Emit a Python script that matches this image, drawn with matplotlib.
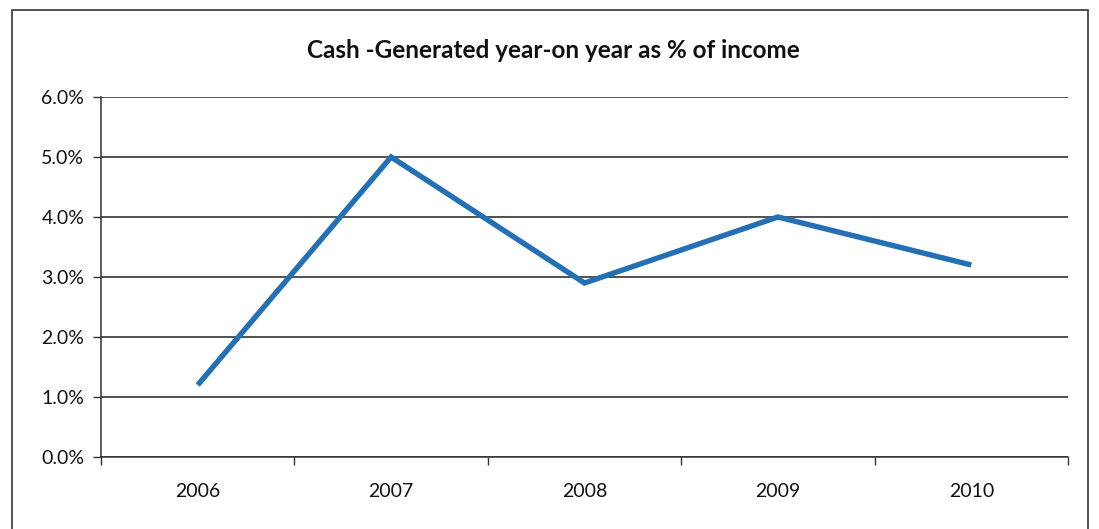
import matplotlib
matplotlib.use("Agg")
import matplotlib.pyplot as plt
from matplotlib.ticker import PercentFormatter, FixedLocator
from matplotlib.patches import Rectangle

years = ["2006", "2007", "2008", "2009", "2010"]
cash_pct = [1.2, 5.0, 2.9, 4.0, 3.2]
y_ticks = [0, 1, 2, 3, 4, 5, 6]
title = "Cash -Generated year-on year as % of income"

plt.rcParams["font.family"] = ["Lato", "DejaVu Sans"]

fig = plt.figure(figsize=(10.99, 5.29), dpi=100)
fig.patch.set_facecolor("white")

# outer chart frame
fig.patches.append(Rectangle((12 / 1099, -0.01), (1088 - 12) / 1099, (529 - 10) / 529 + 0.01,
                             transform=fig.transFigure, fill=False,
                             edgecolor="#333333", linewidth=1.2))

ax = fig.add_axes([101 / 1099, 1 - 457 / 529, (1068 - 101) / 1099, (457 - 97) / 529])
x = list(range(len(years)))
ax.plot(x, cash_pct, color="#2470b5", linewidth=3.9, solid_joinstyle="miter",
        solid_capstyle="butt", zorder=3)

ax.set_xlim(-0.5, len(years) - 0.5)
ax.set_ylim(0, 6)
ax.yaxis.set_major_locator(FixedLocator(y_ticks))
ax.yaxis.set_major_formatter(PercentFormatter(decimals=1))
ax.grid(axis="y", color="#222222", linewidth=1.1)
ax.set_axisbelow(True)

ax.xaxis.set_major_locator(FixedLocator([i - 0.5 for i in range(len(years) + 1)]))
ax.xaxis.set_major_formatter(plt.NullFormatter())
ax.xaxis.set_minor_locator(FixedLocator(x))
ax.set_xticklabels(years, minor=True)
ax.tick_params(axis="x", which="major", length=6, width=1, color="#333333", direction="out")
ax.tick_params(axis="x", which="minor", length=0, pad=19, labelsize=14, labelcolor="#111111")
ax.tick_params(axis="y", length=6, width=1, color="#333333", pad=6, labelsize=14,
               labelcolor="#111111")

for side in ("top", "right"):
    ax.spines[side].set_visible(False)
for side in ("left", "bottom"):
    ax.spines[side].set_color("#333333")
    ax.spines[side].set_linewidth(1.1)

fig.text(553 / 1099, 1 - 50 / 529, title, ha="center", va="center",
         fontsize=17.5, fontweight="bold", color="#111111")

fig.savefig("out.png", dpi=100, facecolor="white")
